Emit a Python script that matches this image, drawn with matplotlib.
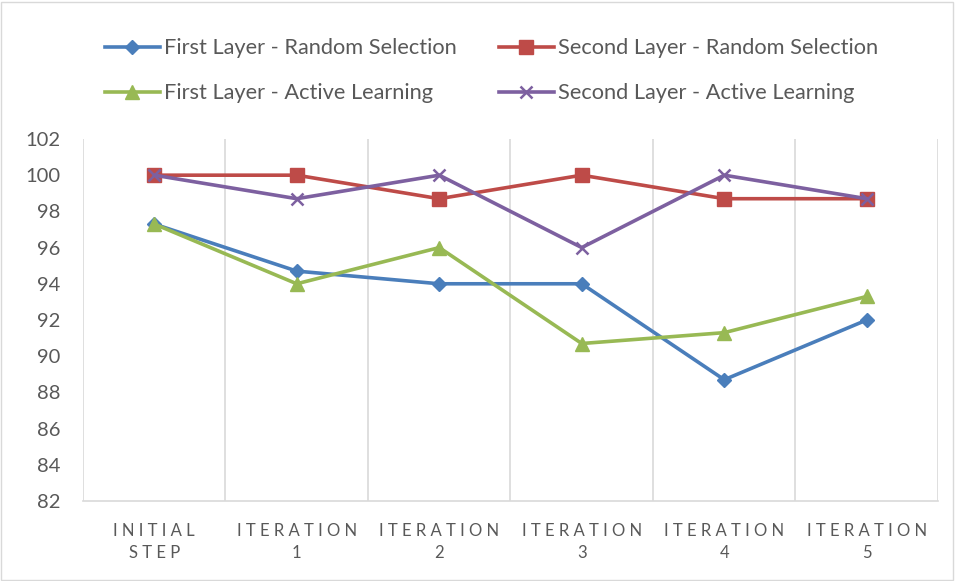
import matplotlib.pyplot as plt
import numpy as np
from matplotlib.patches import Rectangle

plt.rcParams['font.family'] = ['Lato', 'DejaVu Sans']

categories = ["I N I T I A L\nS T E P", "I T E R A T I O N\n1", "I T E R A T I O N\n2",
              "I T E R A T I O N\n3", "I T E R A T I O N\n4", "I T E R A T I O N\n5"]

first_random = [97.3, 94.7, 94.0, 94.0, 88.7, 92.0]
second_random = [100, 100, 98.7, 100, 98.7, 98.7]
first_active = [97.3, 94.0, 96.0, 90.7, 91.3, 93.3]
second_active = [100, 98.7, 100, 96.0, 100, 98.7]

labels = ["First Layer - Random Selection", "Second Layer - Random Selection",
          "First Layer - Active Learning", "Second Layer - Active Learning"]

blue = "#4A7EBB"
red = "#BE4B48"
green = "#98B954"
purple = "#7D60A0"
txt = "#595959"
gridc = "#D9D9D9"

fig = plt.figure(figsize=(9.55, 5.81), dpi=100)
ax = fig.add_axes([0.0869, 0.1377, 0.8953, 0.6231])

ind = np.arange(len(categories))

l1, = ax.plot(ind, first_random, color=blue, lw=2.6, marker="D", markersize=7.5, zorder=3)
l2, = ax.plot(ind, second_random, color=red, lw=2.6, marker="s", markersize=10, zorder=3)
l3, = ax.plot(ind, first_active, color=green, lw=2.6, marker="^", markersize=10.5, zorder=4)
l4, = ax.plot(ind, second_active, color=purple, lw=2.6, marker="x", markersize=8.5,
              markeredgewidth=1.8, zorder=5)

ax.set_xlim(-0.5, 5.5)
ax.set_ylim(82, 102)
ax.set_yticks(np.arange(82, 103, 2))
ax.set_xticks(ind)
ax.set_xticklabels(categories, fontsize=12, color=txt, linespacing=1.45)
ax.set_xticks(np.arange(-0.5, 6, 1), minor=True)
ax.xaxis.grid(True, which='minor', color=gridc, lw=1.2)
ax.tick_params(axis='both', which='both', length=0)
ax.tick_params(axis='y', labelsize=14.5, labelcolor=txt, pad=16.5)
ax.tick_params(axis='x', pad=16)
for s in ['top', 'right', 'left']:
    ax.spines[s].set_visible(False)
ax.spines['bottom'].set_color(gridc)
ax.spines['bottom'].set_linewidth(1.2)
ax.set_axisbelow(True)

# row-wise order like the original (matplotlib fills legend columns first)
leg = fig.legend([l1, l3, l2, l4], [labels[0], labels[2], labels[1], labels[3]],
                 loc='upper left', ncol=2, bbox_to_anchor=(0.11, 0.934),
                 frameon=False, fontsize=15.7, borderpad=0, borderaxespad=0,
                 handlelength=2.5, columnspacing=1.95, labelspacing=1.15,
                 handletextpad=0.2, labelcolor=txt)

fig.patches.append(Rectangle((0.001, 0.002), 0.997, 0.995, transform=fig.transFigure,
                             fill=False, edgecolor=gridc, lw=1))

plt.savefig("out.png", dpi=100)
